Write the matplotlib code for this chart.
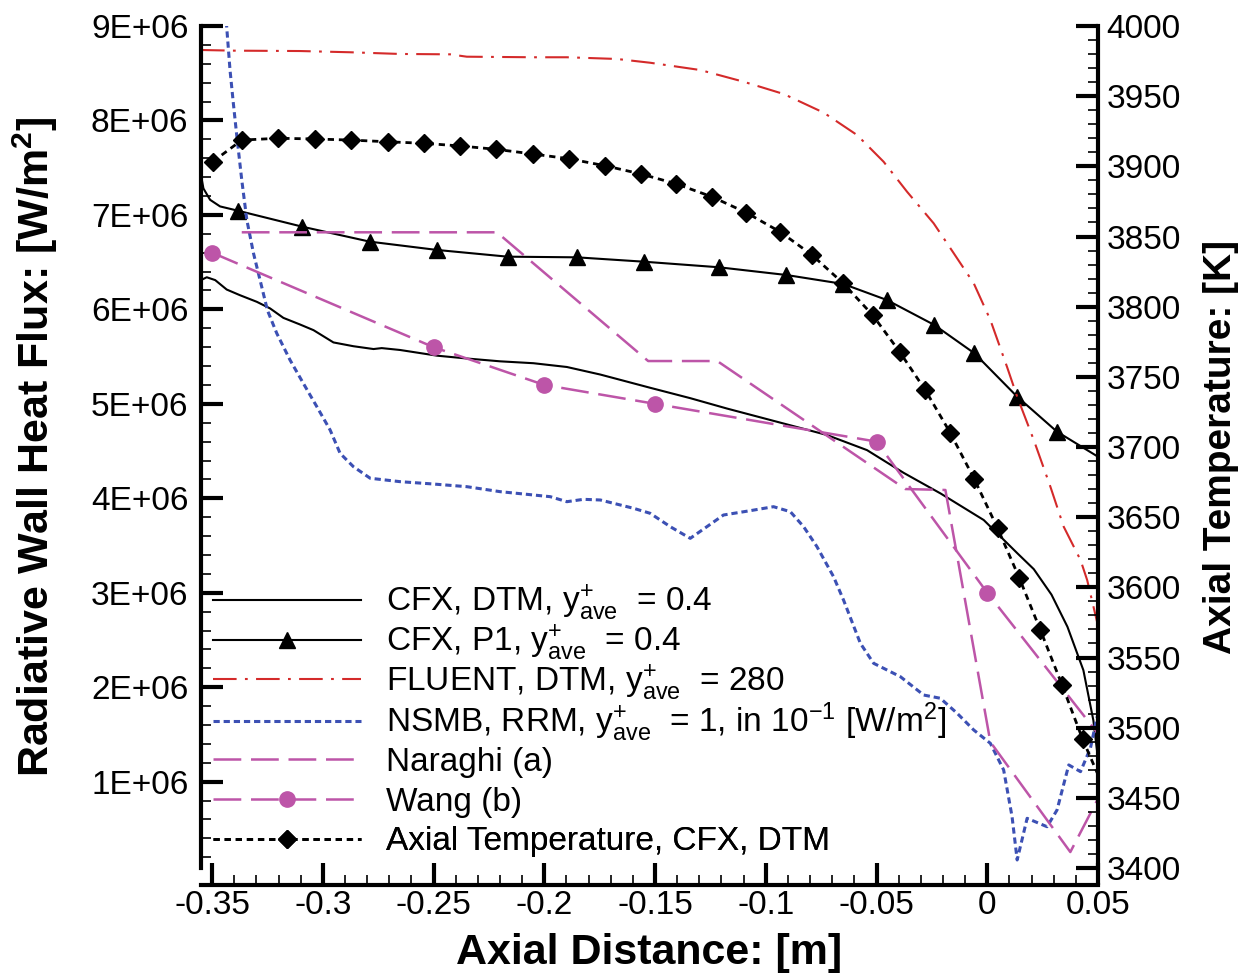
import matplotlib
matplotlib.use("Agg")
import matplotlib.pyplot as plt
from matplotlib.ticker import MultipleLocator, FuncFormatter

plt.rcParams['font.family'] = ['Liberation Sans', 'DejaVu Sans']
plt.rcParams['mathtext.fontset'] = 'custom'
plt.rcParams['mathtext.rm'] = 'Liberation Sans'
plt.rcParams['mathtext.it'] = 'Liberation Sans:italic'
plt.rcParams['mathtext.bf'] = 'Liberation Sans:bold'
plt.rcParams['axes.unicode_minus'] = False
plt.rcParams['lines.scale_dashes'] = False

# ---- data (heat flux in 1E+06 W/m2, temperature in K) ----
dtm_x = [-0.355, -0.3524, -0.3486, -0.3434, -0.3374, -0.3298, -0.3238, -0.3178,
         -0.3103, -0.3042, -0.2952, -0.2862, -0.2771, -0.2734, -0.2651, -0.2485,
         -0.2350, -0.2199, -0.2049, -0.1898, -0.1747, -0.1522, -0.1341, -0.1175,
         -0.0949, -0.0724, -0.0543, -0.0378, -0.0210, -0.0016, 0.0135, 0.0210,
         0.0290, 0.0362, 0.0434, 0.0479, 0.0497]
dtm_q = [6.31, 6.34, 6.31, 6.21, 6.15, 6.08, 6.01, 5.91,
         5.84, 5.78, 5.65, 5.61, 5.58, 5.59, 5.57, 5.51,
         5.48, 5.45, 5.43, 5.39, 5.31, 5.17, 5.06, 4.95,
         4.81, 4.67, 4.51, 4.27, 4.05, 3.77, 3.42, 3.25,
         2.98, 2.64, 2.18, 1.65, 1.30]

p1_x = [-0.355, -0.3539, -0.3509, -0.3464, -0.3384, -0.3092, -0.2788, -0.2484,
        -0.2166, -0.1853, -0.1552, -0.1213, -0.0907, -0.0650, -0.0453, -0.0239,
        -0.0058, 0.0135, 0.0315, 0.05]
p1_q = [7.42, 7.28, 7.16, 7.09, 7.045, 6.875, 6.717, 6.629,
        6.558, 6.551, 6.505, 6.446, 6.364, 6.269, 6.099, 5.835,
        5.535, 5.076, 4.705, 4.44]

fluent_x = [-0.355, -0.3404, -0.3103, -0.2877, -0.2651, -0.2425, -0.2350, -0.2049,
            -0.1898, -0.1672, -0.1522, -0.1296, -0.1100, -0.0919, -0.0738, -0.0588,
            -0.0468, -0.0362, -0.0242, -0.0151, -0.0061, 0.0014, 0.0089, 0.0135,
            0.0210, 0.0285, 0.0345, 0.0421, 0.0451, 0.0497]
fluent_q = [8.746, 8.739, 8.735, 8.722, 8.704, 8.700, 8.675, 8.669,
            8.669, 8.651, 8.611, 8.534, 8.410, 8.280, 8.082, 7.846,
            7.563, 7.245, 6.911, 6.593, 6.276, 5.888, 5.393, 5.076,
            4.617, 4.123, 3.700, 3.347, 3.135, 2.680]

nsmb_x = [-0.3436, -0.3419, -0.3404, -0.3388, -0.3366, -0.3343, -0.3313, -0.3276,
          -0.3250, -0.3208, -0.3148, -0.3088, -0.3027, -0.2967, -0.2922, -0.2862,
          -0.2786, -0.2651, -0.2500, -0.2350, -0.2199, -0.2049, -0.1973, -0.1898,
          -0.1823, -0.1747, -0.1597, -0.1522, -0.1431, -0.1341, -0.1266, -0.1191,
          -0.1070, -0.0965, -0.0889, -0.0829, -0.0769, -0.0694, -0.0649, -0.0573,
          -0.0513, -0.0392, -0.0287, -0.0212, -0.0136, -0.0061, 0.0014, 0.0074,
          0.0112, 0.0135, 0.0180, 0.0270, 0.0315, 0.0368, 0.0421, 0.0466, 0.0496]
nsmb_q = [9.05, 8.534, 8.182, 7.828, 7.370, 6.946, 6.594, 6.240,
          5.990, 5.747, 5.464, 5.217, 4.970, 4.723, 4.476, 4.335,
          4.212, 4.176, 4.151, 4.123, 4.070, 4.035, 4.017, 3.964,
          3.989, 3.982, 3.894, 3.841, 3.699, 3.576, 3.699, 3.823,
          3.869, 3.911, 3.858, 3.699, 3.488, 3.170, 2.923, 2.465,
          2.253, 2.111, 1.917, 1.883, 1.724, 1.547, 1.406, 1.124,
          0.629, 0.171, 0.612, 0.523, 0.700, 1.177, 1.106, 1.357, 1.688]

naraghi_x = [-0.3366, -0.2214, -0.1531, -0.1219, -0.0370, -0.0189, 0.0014, 0.0375, 0.0497]
naraghi_q = [6.816, 6.816, 5.453, 5.453, 4.098, 4.088, 1.420, 0.255, 0.806]

wang_x = [-0.35, -0.25, -0.20, -0.15, -0.05, 0.0, 0.0496]
wang_q = [6.6, 5.6, 5.2, 5.0, 4.6, 3.0, 1.52]

temp_x = [-0.3497, -0.3366, -0.3201, -0.3035, -0.2872, -0.2706, -0.2542, -0.2379,
          -0.2216, -0.2051, -0.1889, -0.1725, -0.1562, -0.1404, -0.1243, -0.1088,
          -0.0934, -0.0791, -0.0651, -0.0518, -0.0396, -0.0280, -0.0167, -0.0058,
          0.0047, 0.0144, 0.0240, 0.0338, 0.0431, 0.0497]
temp_T = [3903.3, 3918.7, 3920.0, 3919.5, 3918.7, 3917.5, 3916.4, 3914.5,
          3912.1, 3908.8, 3905.4, 3900.4, 3894.5, 3887.5, 3878.3, 3867.0,
          3853.2, 3836.8, 3816.7, 3794.1, 3767.9, 3740.6, 3710.1, 3676.9,
          3642.0, 3606.9, 3569.5, 3530.3, 3491.6, 3467.6]

labels = [r"CFX, DTM, $\mathregular{y^{+}_{ave}}$  = 0.4",
          r"CFX, P1, $\mathregular{y^{+}_{ave}}$  = 0.4",
          r"FLUENT, DTM, $\mathregular{y^{+}_{ave}}$  = 280",
          r"NSMB, RRM, $\mathregular{y^{+}_{ave}}$  = 1, in 10$\mathregular{^{-1}}$ [W/m$\mathregular{^{2}}$]",
          "Naraghi (a)",
          "Wang (b)",
          "Axial Temperature, CFX, DTM"]

red = '#d42a2a'
blue = '#3c50b4'
mag = '#bd55a8'

fig = plt.figure(figsize=(12.54, 9.74), dpi=100)
ax = fig.add_axes([201/1254, 1 - 868/974, 897/1254, 842/974])
ax2 = ax.twinx()

sc = 1e6
l1, = ax.plot(dtm_x, [v*sc for v in dtm_q], color='black', lw=1.5)
l2, = ax.plot(p1_x, [v*sc for v in p1_q], color='black', lw=1.5, marker='^',
              ms=11, markevery=list(range(4, len(p1_x) - 1)))
l3, = ax.plot(fluent_x, [v*sc for v in fluent_q], color=red, lw=1.5,
              dashes=[17, 6, 2, 6])
l4, = ax.plot(nsmb_x, [v*sc for v in nsmb_q], color=blue, lw=2.2, dashes=[4.5, 2.8])
l5, = ax.plot(naraghi_x, [v*sc for v in naraghi_q], color=mag, lw=1.8, dashes=[20, 7])
l6, = ax.plot(wang_x, [v*sc for v in wang_q], color=mag, lw=1.8, dashes=[20, 7],
              marker='o', ms=11, markevery=list(range(0, 6)))
l7, = ax2.plot(temp_x, temp_T, color='black', lw=2.0, dashes=[4.5, 3.5], marker='D',
               ms=9.5, markevery=list(range(0, len(temp_x) - 1)))

ax.set_xlim(-0.355, 0.05)
ax.set_ylim(0.086e6, 9e6)
ax2.set_ylim(3400, 4000)

ax.xaxis.set_major_locator(MultipleLocator(0.05))
ax.xaxis.set_minor_locator(MultipleLocator(0.01))
ax.yaxis.set_major_locator(MultipleLocator(1e6))
ax.yaxis.set_minor_locator(MultipleLocator(0.2e6))
ax2.yaxis.set_major_locator(MultipleLocator(50))
ax2.yaxis.set_minor_locator(MultipleLocator(10))
ax.xaxis.set_major_formatter(FuncFormatter(lambda v, p: '%g' % round(v, 2)))
ax.yaxis.set_major_formatter(FuncFormatter(lambda v, p: '%dE+06' % round(v / 1e6)))

for a in (ax, ax2):
    for s in a.spines.values():
        s.set_linewidth(3)
    a.spines['top'].set_visible(False)
ax.spines['right'].set_visible(False)
ax2.spines['left'].set_visible(False)
ax2.spines['bottom'].set_visible(False)
ax.spines['bottom'].set_position(('outward', 12))

ax.tick_params(axis='both', which='major', direction='in', length=16, width=3,
               labelsize=24, top=False, right=False)
ax.tick_params(axis='both', which='minor', direction='in', length=7, width=1.2,
               top=False, right=False)
ax.tick_params(axis='y', which='major', pad=9)
ax.tick_params(axis='x', which='major', pad=4)
ax2.tick_params(axis='y', which='major', direction='in', length=16, width=3,
                labelsize=24, pad=6)
ax2.tick_params(axis='y', which='minor', direction='in', length=7, width=1.2)

ax.set_xlabel("Axial Distance: [m]", fontsize=31, fontweight='bold')
ax.set_ylabel(r"Radiative Wall Heat Flux: [W/m$^{\mathbf{2}}$]", fontsize=31,
              fontweight='bold')
ax2.set_ylabel("Axial Temperature: [K]", fontsize=28, fontweight='bold')
ax.xaxis.set_label_coords(0.5, -0.077)
ax.yaxis.set_label_coords(-0.157, 0.5)
ax2.yaxis.set_label_coords(1.117, 0.5)

# one legend per row so that the rows stay evenly spaced
handles = [l1, l2, l3, l4, l5, l6, l7]
for i, (h, lab) in enumerate(zip(handles, labels)):
    yc = (868 - (603 + 39.8 * i)) / 842
    leg = ax2.legend([h], [lab], loc='center left', bbox_to_anchor=(12/897, yc),
                     frameon=False, fontsize=24, numpoints=1, handlelength=4.45,
                     handletextpad=0.75, borderpad=0, borderaxespad=0)
    ax2.add_artist(leg)

fig.savefig("out.png", dpi=100)
